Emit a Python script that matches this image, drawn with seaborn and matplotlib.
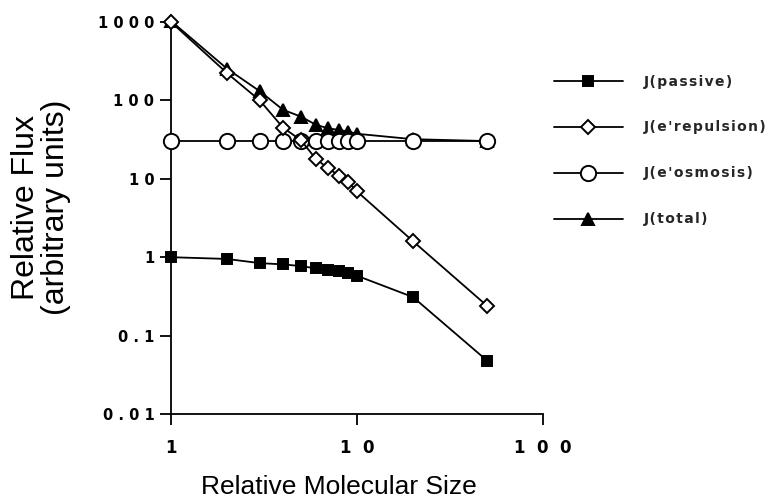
import matplotlib
matplotlib.use("Agg")
import matplotlib.pyplot as plt
import numpy as np
import pandas as pd
import seaborn as sns
from matplotlib.ticker import FixedLocator, FuncFormatter, NullLocator

# values
molecular_size = [1, 2, 3, 4, 5, 6, 7, 8, 9, 10, 20, 50]
j_passive = [1.0, 0.95, 0.84, 0.81, 0.77, 0.72, 0.68, 0.66, 0.62, 0.58, 0.31, 0.048]
j_repulsion = [1000, 223, 100, 45, 31, 18, 13.6, 11, 9.0, 6.9, 1.6, 0.24]
j_osmosis = [30, 30, 30, 30, 30, 30, 30, 30, 30, 30, 30, 30]
j_total = [1031, 254, 131, 76, 62, 49, 44, 42, 40, 37.5, 32, 30.3]

series_labels = ["J(passive)", "J(e'repulsion)", "J(e'osmosis)", "J(total)"]
y_ticks = [0.01, 0.1, 1, 10, 100, 1000]
x_ticks = [1, 10, 100]


def spaced(s, sep=" "):
    return sep.join(s)


df = pd.DataFrame({
    "size": molecular_size * 4,
    "flux": j_passive + j_repulsion + j_osmosis + j_total,
    "series": np.repeat(series_labels, len(molecular_size)),
})

sns.set_theme(style="ticks")
plt.rcParams["font.family"] = ["Liberation Sans", "DejaVu Sans"]

fig = plt.figure(figsize=(7.71, 5.04), dpi=100)
ax = fig.add_axes([171 / 771, 1 - 414 / 504, (543 - 171) / 771, (414 - 22) / 504])

styles = {
    "J(passive)": dict(marker="s", markersize=7.5, markerfacecolor="black", zorder=5),
    "J(e'repulsion)": dict(marker="D", markersize=7.5, markerfacecolor="white", zorder=4),
    "J(e'osmosis)": dict(marker="o", markersize=11, markerfacecolor="white", zorder=3),
    "J(total)": dict(marker="^", markersize=8.5, markerfacecolor="black", zorder=2),
}

for lab in series_labels:
    sub = df[df["series"] == lab]
    sns.lineplot(data=sub, x="size", y="flux", ax=ax, color="black", linewidth=1.3,
                 markeredgecolor="black", markeredgewidth=1.4, clip_on=False,
                 label=spaced(lab, "\u200a"), **styles[lab])

ax.set_xscale("log")
ax.set_yscale("log")
ax.set_xlim(1, 100)
ax.set_ylim(0.01, 1000)
ax.xaxis.set_major_locator(FixedLocator(x_ticks))
ax.yaxis.set_major_locator(FixedLocator(y_ticks))
ax.xaxis.set_minor_locator(NullLocator())
ax.yaxis.set_minor_locator(NullLocator())
ax.yaxis.set_major_formatter(FuncFormatter(lambda v, p: spaced(f"{v:g}")))
ax.xaxis.set_major_formatter(FuncFormatter(lambda v, p: spaced(f"{v:g}", "  ")))

for lbl in ax.get_yticklabels():
    lbl.set_family("DejaVu Sans")
    lbl.set_fontweight("bold")
    lbl.set_fontsize(10.5)
for lbl in ax.get_xticklabels():
    lbl.set_family("DejaVu Sans")
    lbl.set_fontweight("bold")
    lbl.set_fontsize(12)

ax.tick_params(axis="y", length=8, width=1.3, pad=4, colors="black")
ax.tick_params(axis="x", length=8, width=1.3, pad=10, colors="black")
sns.despine(ax=ax)
for sp in ("left", "bottom"):
    ax.spines[sp].set_linewidth(1.3)
    ax.spines[sp].set_color("black")

ax.set_xlabel("Relative Molecular Size", fontsize=19, color="black")
ax.xaxis.set_label_coords(0.45, -0.155)
ax.set_ylabel("Relative Flux\n(arbitrary units)", fontsize=23, color="black", linespacing=1.0)
ax.yaxis.set_label_coords(-0.27, 0.528)

leg = ax.legend(loc="upper left", bbox_to_anchor=(548 / 771, 1 - 69 / 504),
                bbox_transform=fig.transFigure, frameon=False, handlelength=5.0,
                handletextpad=1.5, labelspacing=2.3, borderaxespad=0,
                prop=dict(family="DejaVu Sans", weight="bold", size=10))

fig.savefig("out.png", dpi=100)
